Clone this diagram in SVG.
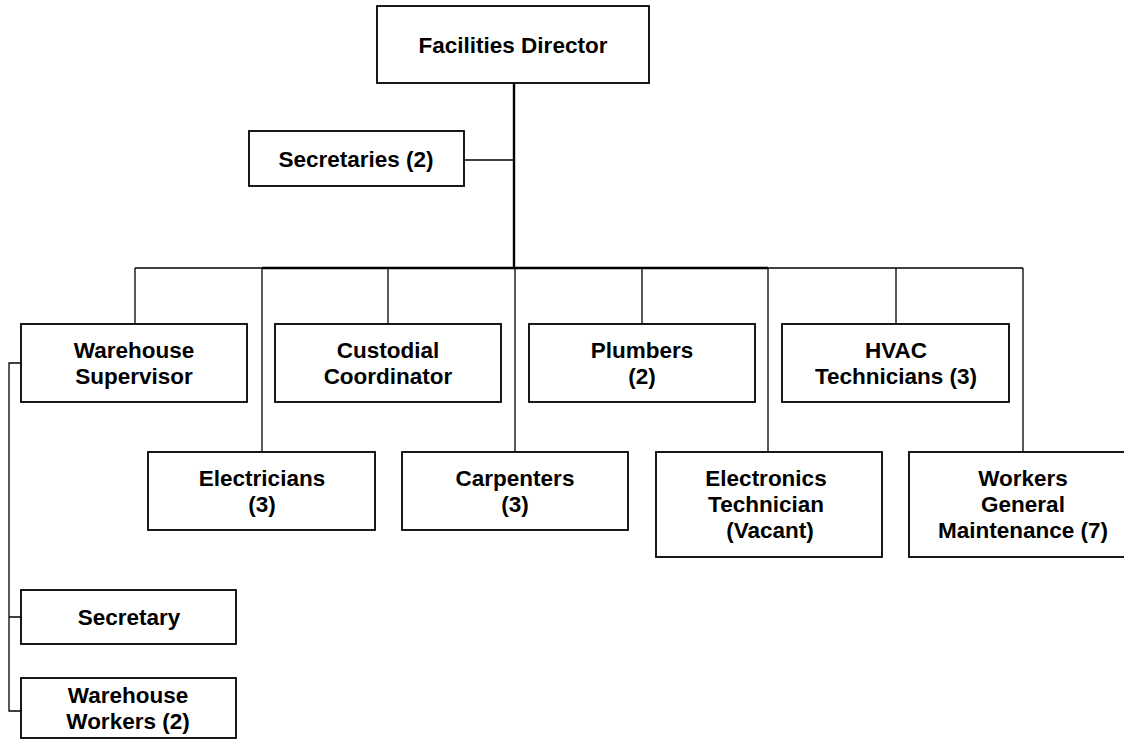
<svg xmlns="http://www.w3.org/2000/svg" width="1124" height="747" viewBox="0 0 1124 747">
  <style>
    .box { fill: #ffffff; stroke: #000000; stroke-width: 1.8; }
    .lbl { font-family: "Liberation Sans", Arial, sans-serif; font-weight: bold; font-size: 22.5px; fill: #000000; text-anchor: middle; }
    .ln { fill: none; stroke: #000000; stroke-width: 1.3; }
    .ln2 { fill: none; stroke: #000000; stroke-width: 2.4; }
  </style>
  <rect width="1124" height="747" fill="#ffffff"/>

  <!-- reporting lines -->
  <g id="connectors">
    <line class="ln2" x1="514" y1="83" x2="514" y2="268"/>
    <line class="ln" x1="464" y1="160" x2="514" y2="160"/>
    <line class="ln" x1="135" y1="268" x2="1023" y2="268"/>
    <line class="ln2" x1="262" y1="268" x2="768" y2="268"/>
    <line class="ln" x1="135" y1="268" x2="135" y2="324"/>
    <line class="ln" x1="262" y1="268" x2="262" y2="452"/>
    <line class="ln" x1="388" y1="268" x2="388" y2="324"/>
    <line class="ln" x1="515" y1="268" x2="515" y2="452"/>
    <line class="ln" x1="642" y1="268" x2="642" y2="324"/>
    <line class="ln" x1="768" y1="268" x2="768" y2="452"/>
    <line class="ln" x1="896" y1="268" x2="896" y2="324"/>
    <line class="ln" x1="1023" y1="268" x2="1023" y2="452"/>
    <path class="ln" d="M21,363 H9 V711 H21 M9,617 H21"/>
  </g>

  <g id="facilities-director">
    <rect class="box" x="377" y="6" width="272" height="77"/>
    <text class="lbl" x="513" y="53">Facilities Director</text>
  </g>

  <g id="secretaries">
    <rect class="box" x="249" y="131" width="215" height="55"/>
    <text class="lbl" x="356" y="167">Secretaries (2)</text>
  </g>

  <g id="warehouse-supervisor">
    <rect class="box" x="21" y="324" width="226" height="78"/>
    <text class="lbl" x="134" y="358">Warehouse</text>
    <text class="lbl" x="134" y="384">Supervisor</text>
  </g>

  <g id="custodial-coordinator">
    <rect class="box" x="275" y="324" width="226" height="78"/>
    <text class="lbl" x="388" y="358">Custodial</text>
    <text class="lbl" x="388" y="384">Coordinator</text>
  </g>

  <g id="plumbers">
    <rect class="box" x="529" y="324" width="226" height="78"/>
    <text class="lbl" x="642" y="358">Plumbers</text>
    <text class="lbl" x="642" y="384">(2)</text>
  </g>

  <g id="hvac-technicians">
    <rect class="box" x="782" y="324" width="227" height="78"/>
    <text class="lbl" x="896" y="358">HVAC</text>
    <text class="lbl" x="896" y="384">Technicians (3)</text>
  </g>

  <g id="electricians">
    <rect class="box" x="148" y="452" width="227" height="78"/>
    <text class="lbl" x="262" y="486">Electricians</text>
    <text class="lbl" x="262" y="512">(3)</text>
  </g>

  <g id="carpenters">
    <rect class="box" x="402" y="452" width="226" height="78"/>
    <text class="lbl" x="515" y="486">Carpenters</text>
    <text class="lbl" x="515" y="512">(3)</text>
  </g>

  <g id="electronics-technician">
    <rect class="box" x="656" y="452" width="226" height="105"/>
    <text class="lbl" x="766" y="486">Electronics</text>
    <text class="lbl" x="766" y="512">Technician</text>
    <text class="lbl" x="770" y="538">(Vacant)</text>
  </g>

  <g id="general-maintenance">
    <rect class="box" x="909" y="452" width="228" height="105"/>
    <text class="lbl" x="1023" y="486">Workers</text>
    <text class="lbl" x="1023" y="512">General</text>
    <text class="lbl" x="1023" y="538">Maintenance (7)</text>
  </g>

  <g id="secretary">
    <rect class="box" x="21" y="590" width="215" height="54"/>
    <text class="lbl" x="129" y="625">Secretary</text>
  </g>

  <g id="warehouse-workers">
    <rect class="box" x="21" y="678" width="215" height="60"/>
    <text class="lbl" x="128" y="703">Warehouse</text>
    <text class="lbl" x="128" y="729">Workers (2)</text>
  </g>
</svg>
